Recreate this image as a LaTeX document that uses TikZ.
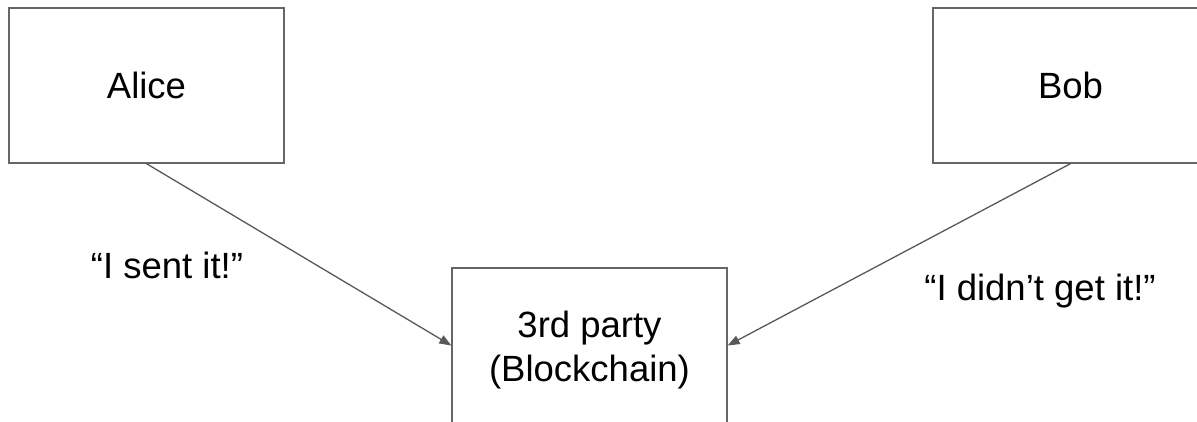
\documentclass[tikz,border=0pt]{standalone}
\usepackage{fontspec}
\setmainfont{Liberation Sans}
\usetikzlibrary{arrows.meta}
\definecolor{boxgray}{HTML}{666666}
\definecolor{linegray}{HTML}{595959}
\begin{document}
\begin{tikzpicture}[x=1pt,y=-1pt,
  party/.style={draw=boxgray,line width=1.3pt,rectangle,minimum width=275pt,minimum height=155pt,inner sep=0pt,align=center,
    font=\fontsize{36.5}{44}\selectfont},
  saying/.style={inner sep=0pt,align=center,font=\fontsize{36.5}{44}\selectfont},
  conn/.style={draw=linegray,line width=1.3pt,-{Triangle[length=12pt,width=9pt]}}]
\clip (0,0) rectangle (1197,422);
\fill[white] (0,0) rectangle (1197,422);
\node[party] (alice) at (146.5,85.5) {Alice};
\node[party] (bob) at (1070.5,85.5) {Bob};
\node[party] (third) at (589.5,345.5) {};
\node[saying] (thirdtext) at ([yshift=-5pt]third.center) {3rd party\\(Blockchain)};
\node[saying] (sent) at (167,265) {“I sent it!”};
\node[saying] (didnt) at (1040,291) {“I didn’t get it!”};
\draw[conn] (alice.south) -- (third.west);
\draw[conn] (bob.south) -- (third.east);
\end{tikzpicture}
\end{document}
